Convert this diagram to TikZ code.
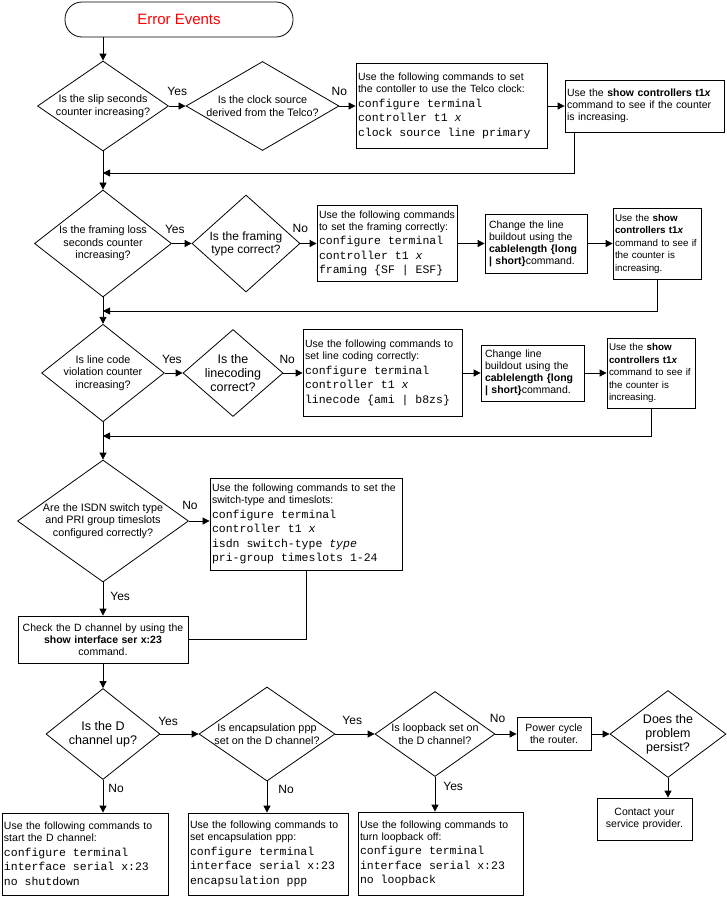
\documentclass[tikz,border=0pt]{standalone}
\usepackage{fontspec}
\setmainfont{Liberation Sans}
\setmonofont{Liberation Mono}
\usepackage{tikz}
\usetikzlibrary{arrows.meta,shapes.geometric}
\setlength{\parindent}{0pt}

\newcommand{\cfg}[1]{\par{\fontsize{11.5}{14.5}\selectfont\ttfamily\spaceskip=0.6em\relax\xspaceskip=0.6em\relax\noindent #1\par}}

\begin{document}
\begin{tikzpicture}[x=1pt,y=-1pt,line width=0.8pt,>={Triangle[length=7pt,width=7pt]},
dec/.style={diamond,draw,inner sep=0pt,align=center,font=\fontsize{10.8}{12.5}\selectfont},
big/.style={font=\fontsize{12.5}{14}\selectfont},
box/.style={rectangle,draw,inner xsep=2pt,inner ysep=2pt,align=left,font=\fontsize{10.5}{12}\selectfont},
lbl/.style={inner sep=0pt,font=\fontsize{12}{14}\selectfont}]

\useasboundingbox (0,0) rectangle (726,897);

\node(start)[draw,rounded corners=17pt,minimum width=228pt,minimum height=35pt,text=red,font=\fontsize{15}{18}\selectfont] at (179,19.5) {Error Events};

\node(q1)[dec,minimum width=131pt,minimum height=90pt,aspect=1.46] at (103,106) {Is the slip seconds\\counter increasing?};

\node(q2)[dec,minimum width=153pt,minimum height=89pt,aspect=1.72] at (262.5,106) {Is the clock source\\derived from the Telco?};

\node(s1)[box,text width=187pt,minimum height=85pt] at (451.5,106) {Use the following commands to set\\the contoller to use the Telco clock:\cfg{configure terminal\\controller t1 \textit{x}\\clock source line primary}};

\node(s2)[box,text width=155pt,minimum height=52pt] at (644.5,106) {Use the \textbf{show controllers t1\textit{x}}\\command to see if the counter\\is increasing.};

\coordinate(j1) at (103,173);

\node(q3)[dec,minimum width=137pt,minimum height=107pt,aspect=1.28] at (103,243.5) {Is the framing loss\\seconds counter\\increasing?};

\node(q4)[dec,minimum width=108pt,minimum height=97pt,aspect=1.11,font=\fontsize{12}{13}\selectfont] at (246,243.5) {Is the framing\\type correct?};

\node(s3)[box,text width=136pt,minimum height=76pt] at (387,243.5) {Use the following commands\\to set the framing correctly:\cfg{configure terminal\\controller t1 \textit{x}\\framing \{SF | ESF\}}};

\node(s4)[box,inner xsep=4pt,text width=94pt,minimum height=59pt] at (536,243.5) {Change the line\\buildout using the\\\textbf{cablelength \{long}\\\textbf{| short\}}command.};

\node(s5)[box,text width=84pt,minimum height=71pt,font=\fontsize{9.8}{12.5}\selectfont] at (657,243.5) {Use the \textbf{show}\\\textbf{controllers t1\textit{x}}\\command to see if\\the counter is\\increasing.};

\coordinate(j2) at (103,311);

\node(q5)[dec,minimum width=120pt,minimum height=95pt,aspect=1.26] at (103,373) {Is line code\\violation counter\\increasing?};

\node(q6)[dec,big,minimum width=100pt,minimum height=87pt,aspect=1.15] at (233,373) {Is the\\linecoding\\correct?};

\node(s6)[box,text width=155pt,minimum height=87pt] at (382.5,373) {Use the following commands to\\set line coding correctly:\cfg{configure terminal\\controller t1 \textit{x}\\linecode \{ami | b8zs\}}};

\node(s7)[box,inner xsep=4pt,text width=95pt,minimum height=56pt] at (532.5,373) {Change line\\buildout using the\\\textbf{cablelength \{long}\\\textbf{| short\}}command.};

\node(s8)[box,text width=84pt,minimum height=70pt,font=\fontsize{9.8}{12.5}\selectfont] at (651,373) {Use the \textbf{show}\\\textbf{controllers t1\textit{x}}\\command to see if\\the counter is\\increasing.};

\coordinate(j3) at (103,436);

\node(q7)[dec,minimum width=171pt,minimum height=122pt,aspect=1.4] at (103,521) {Are the ISDN switch type\\and PRI group timeslots\\configured correctly?};

\node(s9)[box,text width=188pt,minimum height=92pt] at (306,524) {Use the following commands to set the\\switch-type and timeslots:\cfg{configure terminal\\controller t1 \textit{x}\\isdn switch-type \textit{type}\\pri-group timeslots 1-24}};

\node(s10)[box,align=center,text width=166pt,minimum height=47pt] at (103,639.5) {Check the D channel by using the\\\textbf{show interface ser x:23}\\command.};

\node(q8)[dec,big,minimum width=114pt,minimum height=91pt,aspect=1.25] at (103,734) {Is the D\\channel up?};

\node(q9)[dec,minimum width=136pt,minimum height=94pt,aspect=1.45] at (267,734) {Is encapsulation ppp\\set on the D channel?};

\node(q10)[dec,minimum width=120pt,minimum height=85pt,aspect=1.41] at (435,734) {Is loopback set on\\the D channel?};

\node(s13)[box,align=center,text width=70pt,minimum height=33pt] at (554,734) {Power cycle\\the router.};

\node(q11)[dec,big,minimum width=116pt,minimum height=87pt,aspect=1.33] at (668,734) {Does the\\problem\\persist?};

\node(s14)[box,align=center,text width=91pt,minimum height=42pt] at (644.5,819) {Contact your\\service provider.};

\node(s11)[box,text width=162pt,minimum height=82pt] at (85,854) {Use the following commands to\\start the D channel:\cfg{configure terminal\\interface serial x:23\\no shutdown}};

\node(s12)[box,text width=156pt,minimum height=82pt] at (268,854) {Use the following commands to\\set encapsulation ppp:\cfg{configure terminal\\interface serial x:23\\encapsulation ppp}};

\node(s15)[box,text width=161pt,minimum height=83pt] at (440.5,853.5) {Use the following commands to\\turn loopback off:\cfg{configure terminal\\interface serial x:23\\no loopback}};

\draw [->] (start.south -| q1.north) -- (q1.north);
\draw [->] (q1) -- node[lbl,above=10pt](y1){Yes} (q2);
\draw [->] (q2) -- node[lbl,above=10pt,pos=0](n1){No} (s1);
\draw [->] (s1) -- (s2);
\draw [->] ([xshift=10pt]s2.south west) |- (j1);
\draw [->] (q1) -- (q3);

\draw [->] (q3) -- node[lbl,above=9pt,pos=0.15](y2){Yes} (q4);
\draw [->] (q4) -- node[lbl,above=10pt,pos=0](n2){No} (s3);
\draw [->] (s3) -- (s4);
\draw [->] (s4) -- (s5);
\draw [->] (s5.south) |- (j2);
\draw [->] (q3) -- (q5);

\draw [->] (q5) -- node[lbl,above=9pt,pos=0.4](y3){Yes} (q6);
\draw [->] (q6) -- node[lbl,above=9pt,pos=0.2](n3){No} (s6);
\draw [->] (s6) -- (s7);
\draw [->] (s7) -- (s8);
\draw [->] (s8.south) |- (j3);
\draw [->] (q5) -- (q7);

\draw [->] (q7.east) -- node[lbl,above=11pt,pos=0.05](n4){No} (q7.east -| s9.west);
\draw [->] (q7) -- node[lbl,right=7pt,pos=0.43](y4){Yes} (s10);
\draw (s9.south) |- (s10.east);
\draw [->] (s10) -- (q8);

\draw [->] (q8) -- node[lbl,above=8pt,pos=0.2](y5){Yes} (q9);
\draw [->] (q9) -- node[lbl,above=9pt,pos=0.43](y6){Yes} (q10);
\draw [->] (q10) -- node[lbl,above=11pt,pos=0.1](n5){No} (s13);
\draw [->] (s13) -- (q11);
\draw [->] (q8.south) -- node[lbl,right=5pt,pos=0.25](n6){No} (q8.south |- s11.north);
\draw [->] (q9.south) -- node[lbl,right=11pt,pos=0.25](n7){No} (q9.south |- s12.north);
\draw [->] (q10.south) -- node[lbl,right=8pt,pos=0.27](y7){Yes} (q10.south |- s15.north);
\draw [->] (q11.south) -- (q11.south |- s14.north);

\end{tikzpicture}
\end{document}
